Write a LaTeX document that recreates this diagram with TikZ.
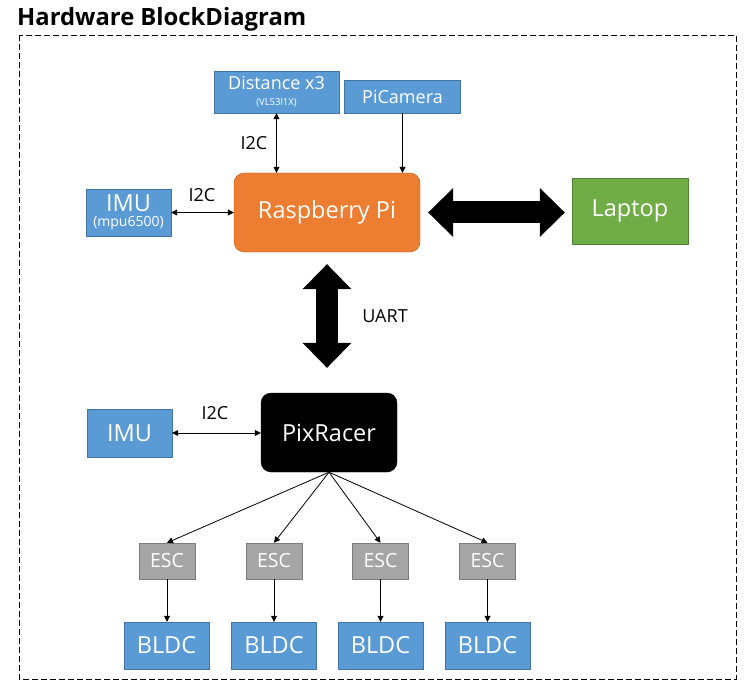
\documentclass[tikz,border=0pt]{standalone}
\usepackage{fontspec}
\setmainfont{Open Sans}
\usetikzlibrary{arrows.meta}
\definecolor{boxblue}{HTML}{5B9BD5}
\definecolor{boxorange}{HTML}{ED7D31}
\definecolor{boxgreen}{HTML}{70AD47}
\definecolor{boxgray}{HTML}{A5A5A5}

\begin{document}
\begin{tikzpicture}[x=1pt,y=-1pt,
  box/.style={draw=#1!75!black, fill=#1, text=white, inner sep=0pt, align=center},
  link/.style={line width=.8pt, -{Triangle[length=6pt,width=6pt]}},
  both/.style={line width=.8pt, {Triangle[length=6pt,width=6pt]}-{Triangle[length=6pt,width=6pt]}},
  fat/.style={line width=22pt, {Triangle[length=25pt,width=49pt,line width=0pt]}-{Triangle[length=25pt,width=49pt,line width=0pt]}}]
\def\fbig{\fontsize{23.5}{25}\selectfont}
\def\fmid{\fontsize{18}{19}\selectfont}
\def\fesc{\fontsize{19.5}{20}\selectfont}
\def\fsmall{\fontsize{14}{14}\selectfont}
\def\ftiny{\fontsize{9.5}{10}\selectfont}
\useasboundingbox (0,0) rectangle (755,687);
\node[anchor=base west, inner sep=0pt, font=\bfseries\fontsize{23.8}{25}\selectfont] (title) at (17,26) {Hardware BlockDiagram};
\draw[dash pattern=on 6pt off 3pt, line width=.8pt] (19,35) rectangle (736,679);
% raspberry pi side
\node[box=boxblue, minimum width=125pt, minimum height=42pt] (dist) at (276.5,92) {\fmid Distance x3\\[4pt]\ftiny (VL53l1X)};
\node[box=boxblue, minimum width=116pt, minimum height=33pt] (cam) at (402.5,96.5) {\fmid PiCamera};
\node[box=boxorange, rounded corners=10pt, minimum width=186pt, minimum height=79pt] (rpi) at (327,212.5) {\fbig Raspberry Pi};
\node[box=boxblue, minimum width=85pt, minimum height=47pt] (imu1) at (128.5,212.5) {\fbig IMU\\[3pt]\fsmall (mpu6500)};
\node[box=boxgreen, minimum width=116pt, minimum height=66pt] (laptop) at (630,211) {\fbig Laptop};
\node (i2c1) at (254,143) {\fmid I2C};
\node (i2c2) at (202,195) {\fmid I2C};
\node (uart) at (385,316) {\fmid UART};
% pixracer side
\node[box=black, rounded corners=10pt, minimum width=136pt, minimum height=79pt] (pix) at (329,432.5) {\fbig PixRacer};
\node[box=boxblue, minimum width=85pt, minimum height=48pt] (imu2) at (129.5,433) {\fbig IMU};
\node (i2c3) at (215,413) {\fmid I2C};
\node[box=boxgray, minimum width=56pt, minimum height=36pt] (esc1) at (167,561) {\fesc ESC};
\node[box=boxgray, minimum width=56pt, minimum height=36pt] (esc2) at (274,561) {\fesc ESC};
\node[box=boxgray, minimum width=56pt, minimum height=36pt] (esc3) at (380.5,561) {\fesc ESC};
\node[box=boxgray, minimum width=56pt, minimum height=36pt] (esc4) at (487.5,561) {\fesc ESC};
\node[box=boxblue, minimum width=85pt, minimum height=47pt] (bldc1) at (166.5,645.5) {\fbig BLDC};
\node[box=boxblue, minimum width=85pt, minimum height=47pt] (bldc2) at (274,645.5) {\fbig BLDC};
\node[box=boxblue, minimum width=85pt, minimum height=47pt] (bldc3) at (380.5,645.5) {\fbig BLDC};
\node[box=boxblue, minimum width=85pt, minimum height=47pt] (bldc4) at (487.5,645.5) {\fbig BLDC};
% connectors
\draw[both] (dist.south) -- (dist.south |- rpi.north);
\draw[link] (cam.south) -- (cam.south |- rpi.north);
\draw[both] (imu1.east) -- (imu1.east -| rpi.west);
\draw[fat, shorten <=8pt, shorten >=7pt] (rpi.east) -- (rpi.east -| laptop.west);
\draw[fat, shorten <=12pt, shorten >=25pt] (rpi.south) -- (rpi.south |- pix.north);
\draw[both] (imu2.east) -- (imu2.east -| pix.west);
\draw[link] (pix.south) -- (esc1.north);
\draw[link] (pix.south) -- (esc2.north);
\draw[link] (pix.south) -- (esc3.north);
\draw[link] (pix.south) -- (esc4.north);
\draw[link] (esc1.south) -- (esc1.south |- bldc1.north);
\draw[link] (esc2.south) -- (esc2.south |- bldc2.north);
\draw[link] (esc3.south) -- (esc3.south |- bldc3.north);
\draw[link] (esc4.south) -- (esc4.south |- bldc4.north);
\end{tikzpicture}
\end{document}
